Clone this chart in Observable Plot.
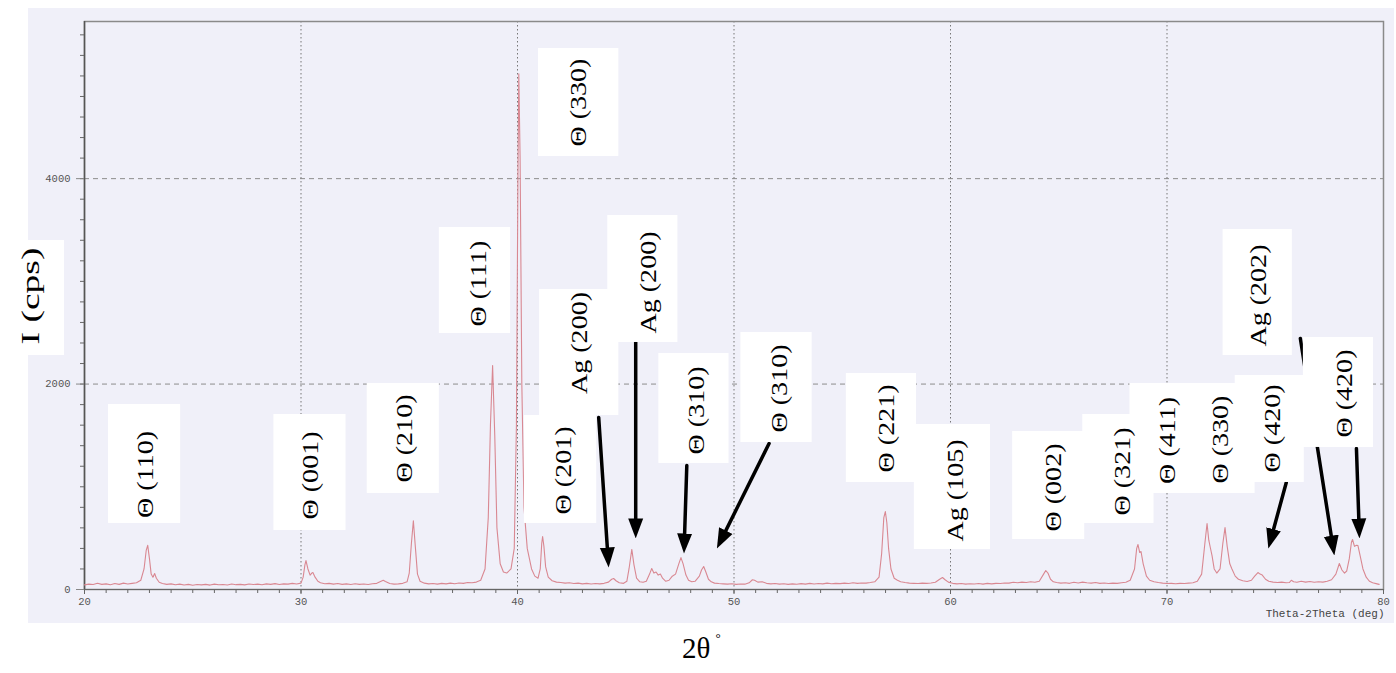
<!DOCTYPE html>
<html>
<head>
<meta charset="utf-8">
<script src="https://cdn.jsdelivr.net/npm/d3@7"></script>
<script src="https://cdn.jsdelivr.net/npm/@observablehq/plot@0.6"></script>
<style>
  html, body { margin: 0; padding: 0; background: #ffffff; }
  #wrap { position: relative; width: 1396px; height: 673px; overflow: hidden; }
  #scan { position: absolute; left: 28px; top: 8px; width: 1366px; height: 615px; background: #f0f0f9; }
  #chart { position: absolute; left: 0; top: 0; }
  #ylab { position: absolute; left: 0; top: 240px; width: 64px; height: 115px; background: #fff; }
  #ylab span { position: absolute; left: 31px; top: 56px; font-family: "Liberation Serif", "Times New Roman", serif; font-size: 25px; white-space: nowrap; color: #000;
    transform: translate(-50%, -50%) rotate(-90deg) scaleX(1.5); }
  #xlab { position: absolute; left: 682px; top: 632px; font-family: "Liberation Serif", "Times New Roman", serif; font-size: 29px; color: #000; white-space: nowrap; }
  #xlab sup { font-size: 13px; position: relative; top: -5px; margin-left: 5px; }
</style>
</head>
<body>
<div id="wrap">
  <div id="scan"></div>
  <div id="chart"></div>
  <div id="ylab"><span>I (cps)</span></div>
  <div id="xlab">2θ<sup>°</sup></div>
</div>
<script>
// ---- spectrum (2θ in degrees, intensity in cps) ----
const twoTheta = [
  20.0,20.2,20.4,20.6,20.8,21.0,21.2,21.4,21.6,21.8,22.0,22.2,22.4,22.6,22.75,22.85,22.92,23.0,23.08,23.16,23.24,23.32,23.45,23.6,23.8,
  24.0,24.2,24.4,24.6,24.8,25.0,25.2,25.4,25.6,25.8,26.0,26.2,26.4,26.6,26.8,27.0,27.2,27.4,27.6,27.8,28.0,28.2,28.4,28.6,28.8,
  29.0,29.2,29.4,29.6,29.8,30.0,30.1,30.18,30.23,30.32,30.42,30.5,30.55,30.65,30.78,30.9,31.1,31.3,31.5,31.7,31.9,32.1,32.3,32.5,32.7,
  32.9,33.1,33.3,33.5,33.7,33.8,33.9,34.1,34.3,34.5,34.7,34.9,35.0,35.1,35.19,35.28,35.38,35.5,35.7,35.9,36.1,36.3,36.5,36.7,36.9,
  37.1,37.3,37.5,37.7,37.9,38.1,38.3,38.5,38.65,38.75,38.85,38.95,39.05,39.2,39.35,39.5,39.7,39.85,39.95,40.02,40.06,40.12,40.2,40.3,40.45,
  40.55,40.65,40.8,40.95,41.05,41.12,41.16,41.22,41.3,41.42,41.6,41.8,42.0,42.2,42.4,42.6,42.8,43.0,43.2,43.4,43.6,43.8,44.0,44.2,44.35,
  44.44,44.55,44.7,44.9,45.05,45.15,45.28,45.38,45.5,45.65,45.8,45.95,46.1,46.2,46.3,46.4,46.5,46.6,46.7,46.85,47.0,47.15,47.2,47.3,47.45,
  47.55,47.65,47.78,47.9,48.05,48.2,48.4,48.5,48.6,48.7,48.82,48.95,49.1,49.3,49.5,49.7,49.9,50.1,50.3,50.5,50.7,50.85,50.95,51.1,51.3,
  51.5,51.7,51.9,52.1,52.3,52.5,52.7,52.9,53.1,53.3,53.5,53.7,53.9,54.1,54.3,54.5,54.7,54.9,55.1,55.3,55.5,55.7,55.9,56.1,56.3,
  56.5,56.7,56.82,56.92,56.99,57.06,57.14,57.25,57.4,57.55,57.7,57.9,58.1,58.3,58.5,58.7,58.9,59.1,59.3,59.5,59.63,59.75,59.9,60.1,60.3,
  60.5,60.7,60.9,61.1,61.3,61.5,61.7,61.9,62.1,62.3,62.5,62.7,62.9,63.1,63.3,63.5,63.7,63.9,64.1,64.3,64.4,64.5,64.62,64.75,64.9,
  65.1,65.3,65.5,65.7,65.9,66.1,66.3,66.5,66.7,66.9,67.1,67.3,67.5,67.7,67.9,68.1,68.3,68.5,68.6,68.66,68.74,68.8,68.9,69.05,69.2,
  69.4,69.6,69.8,70.0,70.2,70.4,70.6,70.8,71.0,71.2,71.4,71.6,71.75,71.85,71.93,72.0,72.08,72.18,72.3,72.45,72.58,72.68,72.78,72.9,73.0,
  73.15,73.3,73.5,73.7,73.9,74.05,74.2,74.3,74.4,74.55,74.7,74.9,75.1,75.3,75.5,75.65,75.74,75.85,76.0,76.2,76.4,76.6,76.8,77.0,77.2,
  77.4,77.6,77.8,77.96,78.08,78.2,78.3,78.42,78.52,78.57,78.66,78.76,78.82,78.92,79.05,79.2,79.35,79.5,79.7,79.8
];
const intensity = [
  45,52,48,60,50,55,47,58,50,62,54,60,66,90,200,380,430,300,150,120,156,110,70,58,50,
  55,46,52,44,50,42,48,45,50,43,52,46,49,44,53,47,50,45,54,48,52,46,55,50,57,
  49,55,52,60,54,62,120,240,282,200,140,160,165,120,80,65,56,60,52,58,50,55,48,56,50,
  54,48,56,60,80,90,78,58,52,55,60,75,160,450,670,420,150,80,62,55,58,52,60,55,62,
  56,64,60,68,65,72,90,200,700,1600,2180,1500,600,250,170,160,200,400,1600,4000,5020,4200,2000,800,400,
  300,200,130,110,200,450,516,420,220,120,85,72,68,62,65,58,62,55,60,54,58,55,60,72,100,
  107,85,65,60,80,200,390,240,110,75,70,80,150,204,160,170,140,150,110,80,90,130,136,150,250,
  311,250,140,90,75,80,130,190,224,170,100,75,62,58,55,52,56,50,54,52,65,95,90,72,75,
  60,55,58,52,56,50,55,51,57,52,60,54,58,55,62,56,60,57,62,58,66,60,64,62,68,
  75,120,350,700,759,650,400,200,110,90,75,68,62,60,58,62,60,64,70,100,117,95,72,60,55,
  58,52,56,54,58,52,60,55,60,58,64,62,70,66,72,68,75,70,80,150,185,160,100,75,68,
  62,66,60,70,64,72,66,62,68,60,64,58,62,60,65,70,90,200,400,438,360,370,250,130,90,
  75,68,62,58,60,56,60,58,62,66,80,150,450,642,480,409,330,200,160,200,450,603,420,250,200,
  130,100,85,78,90,130,165,150,140,100,80,72,68,72,65,68,90,75,70,80,72,78,70,76,72,
  80,95,150,253,190,160,180,300,460,487,420,430,428,330,200,120,80,65,55,50
];

// ---- annotations ----
const labelText = ["Θ (110)","Θ (001)","Θ (210)","Θ (111)","Θ (330)","Ag (200)","Θ (201)","Ag (200)","Θ (310)","Θ (310)",
                   "Θ (221)","Ag (105)","Θ (002)","Θ (321)","Θ (411)","Θ (330)","Θ (420)","Ag (202)","Θ (420)"];
const labelX = [22.82,30.46,34.77,38.19,42.82,42.87,42.13,46.06,48.29,52.13,57.04,60.23,64.77,67.96,70.05,72.5,74.86,74.21,78.19];
const labelY = [1120,1110,1470,2979,4741,2400,1159,2989,1743,1957,1568,964,993,1149,1451,1460,1568,2862,1908];

// white boxes behind the labels (data coordinates)
const boxX1 = [21.11,28.75,33.06,36.39,40.97,41.02,40.32,44.17,46.53,50.32,55.19,58.33,62.87,66.11,68.29,73.15,72.59,76.30];
const boxX2 = [24.44,32.08,36.39,39.68,44.68,44.68,43.66,47.41,49.77,53.61,58.43,61.85,66.20,69.40,74.07,76.34,75.79,79.54];
const boxY1 = [643,574,935,2492,4216,1694,643,2405,1227,1431,1042,389,487,643,935,1042,2278,1383];
const boxY2 = [1801,1704,2006,3524,5267,2921,1694,3641,2298,2502,2103,1606,1538,1704,2006,2084,3505,2453];

// arrows (from label to peak)
const arrowX1 = [43.75,45.46,47.82,51.62,75.51,76.16,78.75];
const arrowY1 = [1675,2405,1207,1421,1042,2444,1373];
const arrowX2 = [44.21,45.46,47.69,49.21,74.68,77.73,78.89];
const arrowY2 = [214,497,350,399,399,331,497];

const xTicksMajor = [20,30,40,50,60,70,80];
const yTicksMajor = [0,2000,4000];

const spectrum = twoTheta.map((x, i) => ({x, y: intensity[i]}));
const labels = labelText.map((t, i) => ({t, x: labelX[i], y: labelY[i]}));
const boxes = boxX1.map((x1, i) => ({x1, x2: boxX2[i], y1: boxY1[i], y2: boxY2[i]}));
const arrows = arrowX1.map((x1, i) => ({x1, y1: arrowY1[i], x2: arrowX2[i], y2: arrowY2[i]}));

function triHead(color, context) {
  return d3.create("svg:marker")
    .attr("viewBox", "-20 -8 20 16")
    .attr("markerUnits", "userSpaceOnUse")
    .attr("markerWidth", 20)
    .attr("markerHeight", 16)
    .attr("refX", 0)
    .attr("refY", 0)
    .attr("orient", "auto")
    .attr("fill", "#000")
    .attr("stroke", "none")
    .call(m => m.append("path").attr("d", "M-20,-7.5L0,0L-20,7.5Z"))
    .node();
}

const monoFont = "'Liberation Mono', 'DejaVu Sans Mono', monospace";

const chart = Plot.plot({
  width: 1396,
  height: 673,
  marginLeft: 84,
  marginRight: 13,
  marginTop: 21,
  marginBottom: 84,
  style: {background: "transparent", overflow: "visible"},
  x: {domain: [20, 80]},
  y: {domain: [0, 5530]},
  marks: [
    Plot.gridY(yTicksMajor.slice(1), {stroke: "#8c8c8c", strokeOpacity: 1, strokeDasharray: "5,4", strokeWidth: 1}),
    Plot.gridX(xTicksMajor.slice(1, -1), {stroke: "#777", strokeOpacity: 1, strokeDasharray: "1.5,2.5", strokeWidth: 1}),
    Plot.frame({stroke: "#8a8a8a", strokeWidth: 1.5}),
    Plot.ruleX([20], {stroke: "#555", strokeWidth: 1.5}),
    Plot.ruleY([0], {stroke: "#666", strokeWidth: 1.2}),
    Plot.axisX({ticks: d3.range(20, 81, 1), tickSize: 4, tickFormat: () => "", stroke: "#666"}),
    Plot.axisX({ticks: xTicksMajor, tickSize: 5, tickPadding: 3, fontSize: 10.5, fontFamily: monoFont, fill: "#555", stroke: "#666", tickFormat: d3.format("d"), label: null}),
    Plot.axisY({ticks: d3.range(0, 5401, 200), tickSize: 4, tickFormat: () => "", stroke: "#666"}),
    Plot.axisY({ticks: yTicksMajor, tickSize: 8, tickPadding: 6, fontSize: 10.5, fontFamily: monoFont, fill: "#555", stroke: "#888", tickFormat: d3.format("d"), label: null}),
    Plot.text(["Theta-2Theta (deg)"], {frameAnchor: "bottom-right", dy: 27, dx: 1, textAnchor: "end", fontSize: 11, fontFamily: monoFont, fill: "#444"}),
    Plot.line(spectrum, {x: "x", y: "y", stroke: "#d98892", strokeWidth: 1.1}),
    Plot.arrow(arrows, {x1: "x1", y1: "y1", x2: "x2", y2: "y2", stroke: "#000", strokeWidth: 3.5, headLength: 0, insetEnd: 13}),
    Plot.link(arrows, {x1: "x1", y1: "y1", x2: "x2", y2: "y2", stroke: "#000", strokeOpacity: 0, markerEnd: triHead}),
    Plot.rect(boxes, {x1: "x1", x2: "x2", y1: "y1", y2: "y2", fill: "#ffffff"}),
    Plot.text(labels, {x: "x", y: "y", text: "t", rotate: -90, fontSize: 23, fontFamily: "'Liberation Serif', 'Times New Roman', serif", fill: "#000"})
  ]
});

// stretch annotation text along its reading direction (as in the scanned figure)
d3.select(chart).selectAll("text").each(function() {
  const s = this.textContent;
  if (/^(Θ|Ag) \(/.test(s)) {
    const tr = this.getAttribute("transform") || "";
    this.setAttribute("transform", tr + " scale(1.22,1)");
  }
});

document.getElementById("chart").appendChild(chart);
</script>
</body>
</html>
